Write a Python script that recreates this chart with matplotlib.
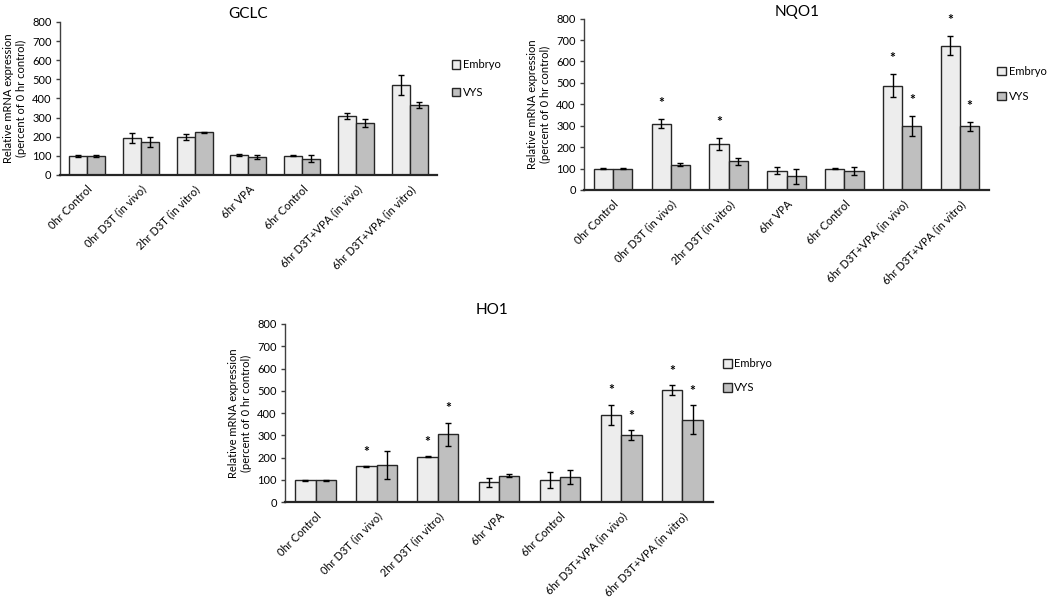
import matplotlib
matplotlib.use("Agg")
import matplotlib.pyplot as plt
import numpy as np

plt.rcParams['font.family'] = ['Lato', 'DejaVu Sans']

categories = ["0hr Control", "0hr D3T (in vivo)", "2hr D3T (in vitro)", "6hr VPA",
              "6hr Control", "6hr D3T+VPA (in vivo)", "6hr D3T+VPA (in vitro)"]
series_names = ["Embryo", "VYS"]

gclc_embryo = [100, 194, 198, 105, 100, 307, 472]
gclc_embryo_err = [5, 25, 15, 5, 3, 15, 52]
gclc_vys = [100, 172, 223, 96, 85, 272, 365]
gclc_vys_err = [5, 28, 3, 10, 18, 20, 15]
gclc_embryo_star = [0, 0, 0, 0, 0, 0, 0]
gclc_vys_star = [0, 0, 0, 0, 0, 0, 0]

nqo1_embryo = [100, 310, 213, 90, 100, 487, 673]
nqo1_embryo_err = [3, 20, 28, 15, 2, 55, 45]
nqo1_vys = [100, 118, 133, 63, 87, 298, 297]
nqo1_vys_err = [3, 8, 15, 33, 18, 48, 20]
nqo1_embryo_star = [0, 1, 1, 0, 0, 1, 1]
nqo1_vys_star = [0, 0, 0, 0, 0, 1, 1]

ho1_embryo = [97, 160, 203, 88, 98, 393, 502]
ho1_embryo_err = [3, 2, 2, 20, 37, 45, 22]
ho1_vys = [97, 168, 305, 118, 112, 300, 370]
ho1_vys_err = [3, 63, 52, 7, 33, 23, 65]
ho1_embryo_star = [0, 1, 1, 0, 0, 1, 1]
ho1_vys_star = [0, 0, 1, 0, 0, 1, 1]

yticks = [0, 100, 200, 300, 400, 500, 600, 700, 800]

emb_color = "#EDEDED"
vys_color = "#BFBFBF"

fig = plt.figure(figsize=(10.5, 5.98), dpi=100)


def panel(rect, title, title_x, title_pad, emb, emb_err, vys, vys_err, emb_star,
          vys_star, leg_anchor, leg_spacing, star_gap):
    ax = fig.add_axes(rect)
    x = np.arange(len(categories))
    w = 1 / 3
    ekw = dict(ecolor='black', elinewidth=1, capsize=2.5, capthick=1)
    ax.bar(x - w / 2, emb, w, yerr=emb_err, color=emb_color, edgecolor='#262626',
           linewidth=1, error_kw=ekw, label=series_names[0], zorder=2)
    ax.bar(x + w / 2, vys, w, yerr=vys_err, color=vys_color, edgecolor='#262626',
           linewidth=1, error_kw=ekw, label=series_names[1], zorder=2)
    for i in range(len(categories)):
        if emb_star[i]:
            ax.text(x[i] - w / 2, emb[i] + emb_err[i] + star_gap, "*", ha='center',
                    va='center', fontsize=10, fontweight='bold')
        if vys_star[i]:
            ax.text(x[i] + w / 2, vys[i] + vys_err[i] + star_gap, "*", ha='center',
                    va='center', fontsize=10, fontweight='bold')
    ax.set_xlim(-0.5, len(categories) - 0.5)
    ax.set_ylim(0, 800)
    ax.set_yticks(yticks)
    ax.tick_params(axis='y', labelsize=8, length=3, width=1, color='#404040', pad=3)
    ax.set_xticks(x)
    ax.set_xticklabels(categories, rotation=45, ha='right', rotation_mode='anchor',
                       fontsize=8)
    ax.tick_params(axis='x', length=0, pad=6)
    for s in ['top', 'right']:
        ax.spines[s].set_visible(False)
    ax.spines['left'].set_color('#404040')
    ax.spines['left'].set_linewidth(1)
    ax.spines['bottom'].set_color('#262626')
    ax.spines['bottom'].set_linewidth(1.6)
    ax.set_ylabel("Relative mRNA expression\n(percent of 0 hr control)", fontsize=8,
                  labelpad=4)
    ax.set_title(title, x=title_x, fontsize=11, pad=title_pad)
    ax.legend(loc='upper left', bbox_to_anchor=leg_anchor, frameon=False, fontsize=8,
              handlelength=0.8, handleheight=0.8, handletextpad=0.25,
              labelspacing=leg_spacing, borderaxespad=0, borderpad=0.3)
    return ax


panel([0.0571, 0.7074, 0.359, 0.2559], "GCLC", 0.5, 3,
      gclc_embryo, gclc_embryo_err, gclc_vys, gclc_vys_err,
      gclc_embryo_star, gclc_vys_star, (1.03, 0.778), 1.5, 70)
panel([0.5562, 0.6823, 0.3857, 0.2866], "NQO1", 0.526, 2,
      nqo1_embryo, nqo1_embryo_err, nqo1_vys, nqo1_vys_err,
      nqo1_embryo_star, nqo1_vys_star, (1.012, 0.744), 1.26, 75)
panel([0.2714, 0.1605, 0.4076, 0.2977], "HO1", 0.484, 7,
      ho1_embryo, ho1_embryo_err, ho1_vys, ho1_vys_err,
      ho1_embryo_star, ho1_vys_star, (1.015, 0.826), 1.16, 65)

fig.savefig("out.png", dpi=100)
